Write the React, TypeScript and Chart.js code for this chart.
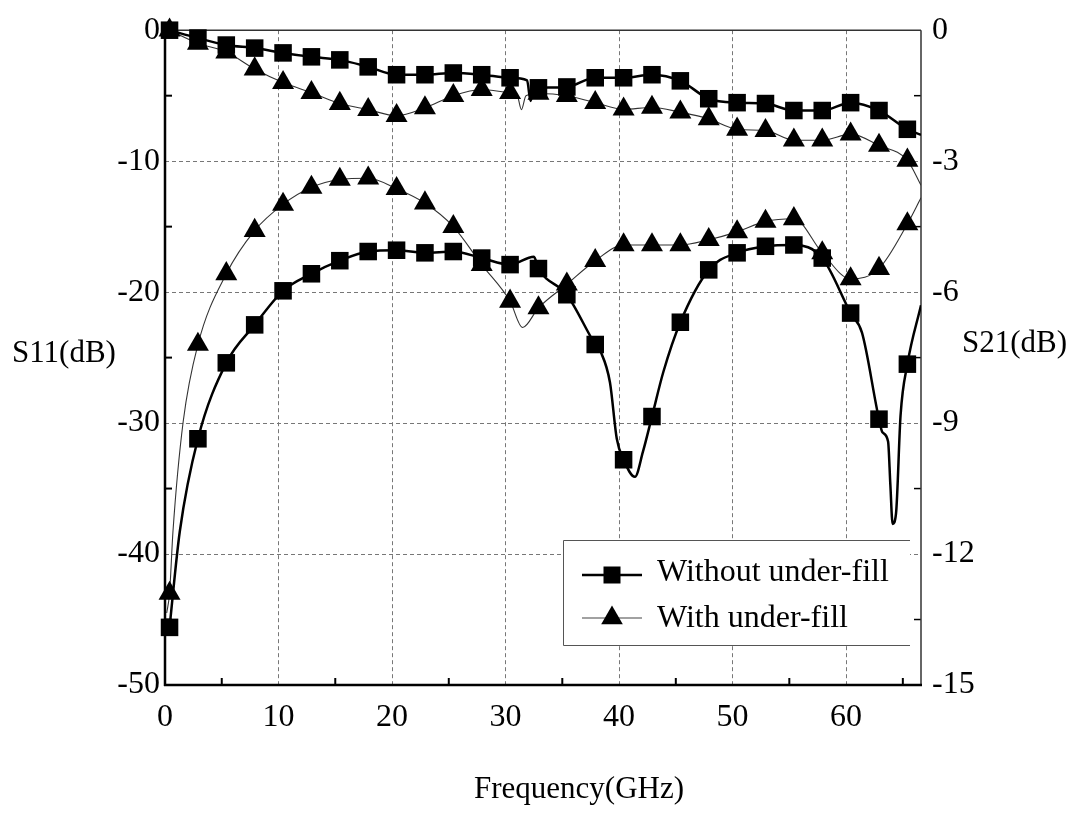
import React, { useEffect, useRef } from 'react';
import { Chart, registerables } from 'chart.js';

Chart.register(...registerables);

const SERIF = '"Liberation Serif", "Times New Roman", serif';

// marker frequencies (GHz)
const markerFreq = [0.4, 2.9, 5.4, 7.9, 10.4, 12.9, 15.4, 17.9, 20.4, 22.9, 25.4, 27.9, 30.4, 32.9, 35.4, 37.9, 40.4, 42.9, 45.4, 47.9, 50.4, 52.9, 55.4, 57.9, 60.4, 62.9, 65.4];

// S21 (right axis, dB)
const s21Without = [0, -0.18, -0.34, -0.41, -0.52, -0.61, -0.68, -0.84, -1.02, -1.02, -0.98, -1.02, -1.09, -1.32, -1.3, -1.09, -1.09, -1.02, -1.16, -1.57, -1.66, -1.68, -1.84, -1.84, -1.66, -1.84, -2.27];
const s21With = [0, -0.3, -0.5, -0.89, -1.2, -1.43, -1.68, -1.82, -1.96, -1.78, -1.5, -1.36, -1.43, -1.45, -1.5, -1.66, -1.81, -1.77, -1.88, -2.03, -2.27, -2.3, -2.52, -2.52, -2.38, -2.64, -2.98];

// S11 (left axis, dB)
const s11Without = [-45.6, -31.2, -25.4, -22.5, -19.9, -18.6, -17.6, -16.9, -16.8, -17.0, -16.9, -17.4, -17.9, -18.2, -20.2, -24.0, -32.8, -29.5, -22.3, -18.3, -17.0, -16.5, -16.4, -17.4, -21.6, -29.7, -25.5];
const s11With = [-43.0, -24.0, -18.6, -15.3, -13.3, -12.0, -11.4, -11.3, -12.1, -13.2, -15.0, -17.9, -20.7, -21.2, -19.4, -17.6, -16.4, -16.4, -16.4, -16.0, -15.4, -14.6, -14.4, -17.0, -19.0, -18.2, -14.8];

// extra points of the measured traces between markers (dips, ends)
const s21WithoutExtraFreq = [31.9, 32.2, 32.5, 66.6];
const s21WithoutExtra = [-1.15, -1.62, -1.35, -2.4];
const s21WithExtraFreq = [31.0, 31.4, 31.8, 66.6];
const s21WithExtra = [-1.47, -1.82, -1.5, -3.55];
const s11WithoutExtraFreq = [1.3, 32.5, 38.4, 39.2, 39.8, 41.4, 42.1, 43.9, 61.4, 63.2, 63.7, 63.9, 64.1, 64.4, 64.8, 66.6];
const s11WithoutExtra = [-38.3, -17.3, -24.6, -26.9, -31.2, -34.1, -32.2, -26.1, -23.1, -30.7, -31.4, -34.7, -37.7, -36.9, -29.4, -21.0];
const s11WithExtraFreq = [0.15, 0.7, 1.6, 31.5, 66.6];
const s11WithExtra = [-44.5, -38.3, -29.9, -22.7, -12.8];

// axes
const xTicks = [0, 10, 20, 30, 40, 50, 60];
const xMinor = [5, 15, 25, 35, 45, 55, 65];
const yLeftTicks = [0, -10, -20, -30, -40, -50];
const yLeftMinor = [-5, -15, -25, -35, -45];
const yRightTicks = [0, -3, -6, -9, -12, -15];
const yRightMinor = [-1.5, -4.5, -7.5, -10.5, -13.5];

const legendLabels = ['Without under-fill', 'With under-fill'];

type Pt = { x: number; y: number };
const toPoints = (xs: number[], ys: number[]): Pt[] => xs.map((x, i) => ({ x, y: ys[i] }));
const trace = (xs: number[], ys: number[], exs: number[], eys: number[]) =>
  [...toPoints(xs, ys), ...toPoints(exs, eys)].sort((a, b) => a.x - b.x);

const drawTriangle = (ctx: CanvasRenderingContext2D, x: number, y: number, r: number) => {
  const h = r * Math.sin((2 * Math.PI) / 3);
  ctx.beginPath();
  ctx.moveTo(x, y - r);
  ctx.lineTo(x + h, y + r / 2);
  ctx.lineTo(x - h, y + r / 2);
  ctx.closePath();
  ctx.fill();
};

const framePlugin = {
  id: 'frame',
  beforeDatasetsDraw(chart: Chart) {
    const { ctx, chartArea: a, scales } = chart;
    const seg = (x1: number, y1: number, x2: number, y2: number) => {
      ctx.beginPath();
      ctx.moveTo(x1, y1);
      ctx.lineTo(x2, y2);
      ctx.stroke();
    };
    ctx.save();
    ctx.strokeStyle = '#000';
    ctx.lineWidth = 2;
    yLeftMinor.forEach(v => {
      const y = scales.y.getPixelForValue(v);
      seg(a.left, y, a.left + 7, y);
    });
    xMinor.forEach(v => {
      const x = scales.x.getPixelForValue(v);
      seg(x, a.bottom, x, a.bottom - 7);
    });
    ctx.lineWidth = 1.5;
    yRightMinor.forEach(v => {
      const y = scales.y2.getPixelForValue(v);
      seg(a.right, y, a.right - 7, y);
    });
    // frame
    ctx.strokeStyle = '#333';
    ctx.lineWidth = 1.5;
    seg(a.left, a.top, a.right, a.top);
    seg(a.right, a.top, a.right, a.bottom);
    ctx.strokeStyle = '#000';
    ctx.lineWidth = 2.5;
    seg(a.left, a.top - 1, a.left, a.bottom + 1);
    seg(a.left - 1, a.bottom, a.right + 1, a.bottom);
    // axis titles
    ctx.fillStyle = '#000';
    ctx.font = `31px ${SERIF}`;
    ctx.textBaseline = 'middle';
    ctx.textAlign = 'left';
    ctx.fillText('S11(dB)', 12, 354);
    ctx.fillText('S21(dB)', 962, 344);
    ctx.textAlign = 'center';
    ctx.fillText('Frequency(GHz)', 579, 790);
    ctx.restore();
  },
  afterDraw(chart: Chart) {
    const { ctx } = chart;
    ctx.save();
    ctx.fillStyle = '#fff';
    ctx.fillRect(563, 540, 347, 106);
    ctx.strokeStyle = '#555';
    ctx.lineWidth = 1;
    ctx.beginPath();
    ctx.moveTo(910, 540.5);
    ctx.lineTo(563.5, 540.5);
    ctx.lineTo(563.5, 645.5);
    ctx.lineTo(910, 645.5);
    ctx.stroke();
    // row 1
    ctx.strokeStyle = '#000';
    ctx.lineWidth = 2.5;
    ctx.beginPath();
    ctx.moveTo(582, 575);
    ctx.lineTo(642, 575);
    ctx.stroke();
    ctx.fillStyle = '#000';
    ctx.fillRect(612 - 8.5, 575 - 8.5, 17, 17);
    // row 2
    ctx.strokeStyle = '#444';
    ctx.lineWidth = 1.2;
    ctx.beginPath();
    ctx.moveTo(582, 618);
    ctx.lineTo(642, 618);
    ctx.stroke();
    drawTriangle(ctx, 612, 618, 12.5);
    ctx.font = `32px ${SERIF}`;
    ctx.textAlign = 'left';
    ctx.textBaseline = 'alphabetic';
    ctx.fillText(legendLabels[0], 657, 581);
    ctx.fillText(legendLabels[1], 657, 627);
    ctx.restore();
  },
};

const App: React.FC = () => {
  const canvasRef = useRef<HTMLCanvasElement>(null);
  const chartRef = useRef<Chart | null>(null);

  useEffect(() => {
    if (!canvasRef.current) return;
    if (chartRef.current) chartRef.current.destroy();

    const thick = { borderColor: '#000', borderWidth: 2.5, pointRadius: 0, cubicInterpolationMode: 'monotone' as const, order: 2 };
    const thin = { borderColor: '#333', borderWidth: 1.1, pointRadius: 0, cubicInterpolationMode: 'monotone' as const, order: 2 };
    const squares = { showLine: false, pointStyle: 'rect' as const, pointRadius: 12.4, pointBorderWidth: 0, pointBackgroundColor: '#000', clip: false as const, order: 1 };
    const triangles = { showLine: false, pointStyle: 'triangle' as const, pointRadius: 12.7, pointBorderWidth: 0, pointBackgroundColor: '#000', clip: false as const, order: 1 };

    chartRef.current = new Chart(canvasRef.current, {
      type: 'line',
      data: {
        datasets: [
          { label: 'S21 ' + legendLabels[0], yAxisID: 'y2', data: trace(markerFreq, s21Without, s21WithoutExtraFreq, s21WithoutExtra), ...thick },
          { label: 'S21 ' + legendLabels[1], yAxisID: 'y2', data: trace(markerFreq, s21With, s21WithExtraFreq, s21WithExtra), ...thin },
          { label: 'S11 ' + legendLabels[0], yAxisID: 'y', data: trace(markerFreq, s11Without, s11WithoutExtraFreq, s11WithoutExtra), ...thick },
          { label: 'S11 ' + legendLabels[1], yAxisID: 'y', data: trace(markerFreq, s11With, s11WithExtraFreq, s11WithExtra), ...thin },
          { label: 'S21 markers w/o', yAxisID: 'y2', data: toPoints(markerFreq, s21Without), ...squares },
          { label: 'S21 markers w', yAxisID: 'y2', data: toPoints(markerFreq, s21With), ...triangles },
          { label: 'S11 markers w/o', yAxisID: 'y', data: toPoints(markerFreq, s11Without), ...squares },
          { label: 'S11 markers w', yAxisID: 'y', data: toPoints(markerFreq, s11With), ...triangles },
        ],
      },
      options: {
        responsive: false,
        animation: false,
        events: [],
        devicePixelRatio: 1,
        layout: { padding: { top: 25, left: 0, right: 0, bottom: 0 } },
        plugins: { legend: { display: false }, tooltip: { enabled: false } },
        scales: {
          x: {
            type: 'linear',
            min: 0,
            max: 66.6,
            afterBuildTicks: s => { s.ticks = xTicks.map(value => ({ value })); },
            afterFit: s => { s.height = 137; },
            ticks: { color: '#000', font: { family: SERIF, size: 32 }, padding: 13, maxRotation: 0 },
            grid: { color: '#777', lineWidth: 1, drawTicks: false },
            border: { display: false, dash: [4, 3] },
          },
          y: {
            type: 'linear',
            position: 'left',
            min: -50,
            max: 0,
            afterBuildTicks: s => { s.ticks = yLeftTicks.map(value => ({ value })); },
            afterFit: s => { s.width = 165; },
            ticks: { color: '#000', font: { family: SERIF, size: 32 }, padding: 5 },
            grid: { color: '#777', lineWidth: 1, drawTicks: false },
            border: { display: false, dash: [4, 3] },
          },
          y2: {
            type: 'linear',
            position: 'right',
            min: -15,
            max: 0,
            afterBuildTicks: s => { s.ticks = yRightTicks.map(value => ({ value })); },
            afterFit: s => { s.width = 159; },
            ticks: { color: '#000', font: { family: SERIF, size: 32 }, padding: 11 },
            grid: { display: false, drawTicks: false },
            border: { display: false },
          },
        },
      },
      plugins: [framePlugin],
    });

    return () => {
      if (chartRef.current) {
        chartRef.current.destroy();
        chartRef.current = null;
      }
    };
  }, []);

  return (
    <div style={{ position: 'absolute', left: 0, top: 0, width: 1080, height: 822, background: '#fff' }}>
      <canvas ref={canvasRef} width={1080} height={822} style={{ width: 1080, height: 822 }} />
    </div>
  );
};

export default App;
